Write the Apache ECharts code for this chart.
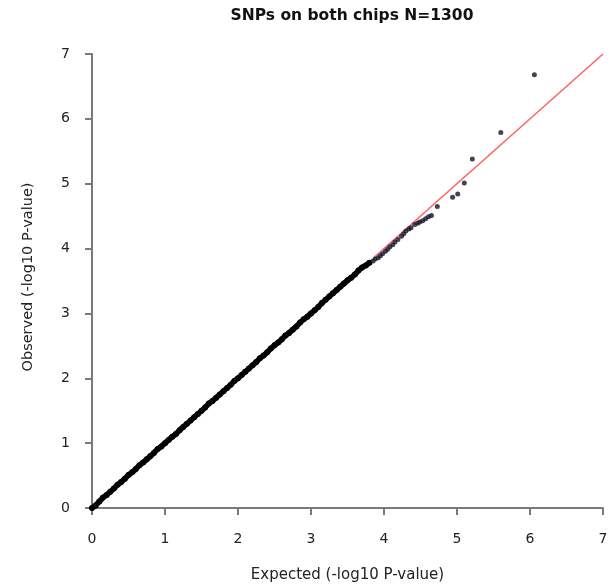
<!DOCTYPE html>
<html>
<head>
<meta charset="utf-8">
<script src="https://cdn.jsdelivr.net/npm/echarts@6/dist/echarts.min.js"></script>
<style>
html,body{margin:0;padding:0;background:#fff;}
#c{width:614px;height:588px;}
</style>
</head>
<body>
<div id="c"></div>
<script>
// Title and axis names
var titleText = "SNPs on both chips N=1300";
var xName = "Expected (-log10 P-value)";
var yName = "Observed (-log10 P-value)";
var tickValues = [0, 1, 2, 3, 4, 5, 6, 7];

// Dense band (expected, observed)
var bandExpected = [0.00,0.05,0.10,0.15,0.20,0.25,0.30,0.35,0.40,0.45,0.50,0.55,0.60,0.65,0.70,0.75,0.80,0.85,0.90,0.95,
  1.00,1.05,1.10,1.15,1.20,1.25,1.30,1.35,1.40,1.45,1.50,1.55,1.60,1.65,1.70,1.75,1.80,1.85,1.90,1.95,
  2.00,2.05,2.10,2.15,2.20,2.25,2.30,2.35,2.40,2.45,2.50,2.55,2.60,2.65,2.70,2.75,2.80,2.85,2.90,2.95,
  3.00,3.05,3.10,3.15,3.20,3.25,3.30,3.35,3.40,3.45,3.50,3.55,3.60,3.65,3.70,3.75,3.80];
var bandObserved = [0.00,0.04,0.10,0.16,0.20,0.25,0.30,0.36,0.40,0.45,0.51,0.55,0.60,0.66,0.70,0.75,0.80,0.85,0.91,0.95,
  1.00,1.05,1.10,1.14,1.20,1.25,1.30,1.35,1.40,1.45,1.50,1.55,1.61,1.65,1.70,1.75,1.80,1.85,1.90,1.96,
  2.00,2.05,2.10,2.15,2.20,2.25,2.31,2.35,2.40,2.46,2.51,2.55,2.60,2.66,2.70,2.75,2.80,2.86,2.91,2.95,
  3.00,3.05,3.10,3.16,3.21,3.26,3.31,3.36,3.41,3.46,3.51,3.55,3.60,3.66,3.71,3.74,3.78];

// Tail points (expected, observed)
var tailExpected = [3.85,3.88,3.92,3.95,3.98,4.02,4.05,4.08,4.12,4.15,4.19,4.24,4.27,4.30,4.34,4.37,4.42,4.46,4.49,4.53,4.57,4.61,4.65,4.73,4.94,5.01,5.10,5.21,5.60,6.06];
var tailObserved = [3.81,3.84,3.86,3.89,3.92,3.96,3.99,4.03,4.06,4.10,4.14,4.19,4.23,4.27,4.30,4.32,4.37,4.39,4.41,4.43,4.46,4.49,4.51,4.65,4.79,4.84,5.01,5.38,5.79,6.68];

// Reference line y = x
var refLineX = [3.85, 7];
var refLineY = [3.85, 7];

function zip(a, b) { return a.map(function (v, i) { return [v, b[i]]; }); }

var FONT = 'DejaVu Sans';
var chart = echarts.init(document.getElementById('c'), null, {renderer: 'canvas'});
var axisCommon = {
  type: 'value', min: 0, max: 7, interval: 1,
  splitLine: {show: false},
  axisLine: {show: true, onZero: false, lineStyle: {color: '#7a7a7a', width: 2}},
  axisTick: {show: true, length: 7, lineStyle: {color: '#7a7a7a', width: 2}},
  nameLocation: 'middle',
  axisLabel: {fontFamily: FONT, fontSize: 14, color: '#222',
    formatter: function (v) { return tickValues.indexOf(v) >= 0 ? String(v) : ''; }}
};
chart.setOption({
  backgroundColor: '#fff',
  animation: false,
  title: {text: titleText, left: 347, top: 3, textAlign: 'center',
    textStyle: {fontFamily: FONT, fontSize: 15.5, fontWeight: 'bold', color: '#111'}},
  grid: {left: 92, right: 11, top: 54, bottom: 79, containLabel: false},
  xAxis: Object.assign({}, axisCommon, {name: xName, nameGap: 60,
    nameTextStyle: {fontFamily: FONT, fontSize: 15, color: '#222'},
    axisLabel: Object.assign({}, axisCommon.axisLabel, {margin: 24})}),
  yAxis: Object.assign({}, axisCommon, {name: yName, nameGap: 56,
    nameTextStyle: {fontFamily: FONT, fontSize: 14.5, color: '#222', padding: [0, 0, 0, 8]},
    axisLabel: Object.assign({}, axisCommon.axisLabel, {margin: 22})}),
  series: [
    {type: 'line', data: zip(refLineX, refLineY), symbol: 'none', z: 1,
      lineStyle: {color: '#ff6060', width: 1.5}},
    {type: 'line', data: zip(bandExpected, bandObserved), symbol: 'circle', symbolSize: 6, z: 2,
      itemStyle: {color: '#000'}, lineStyle: {color: '#000', width: 5.5, cap: 'round', join: 'round'}},
    {type: 'scatter', data: zip(tailExpected, tailObserved), symbol: 'circle', symbolSize: 5, z: 3,
      itemStyle: {color: '#141428'}}
  ]
});
</script>
</body>
</html>
